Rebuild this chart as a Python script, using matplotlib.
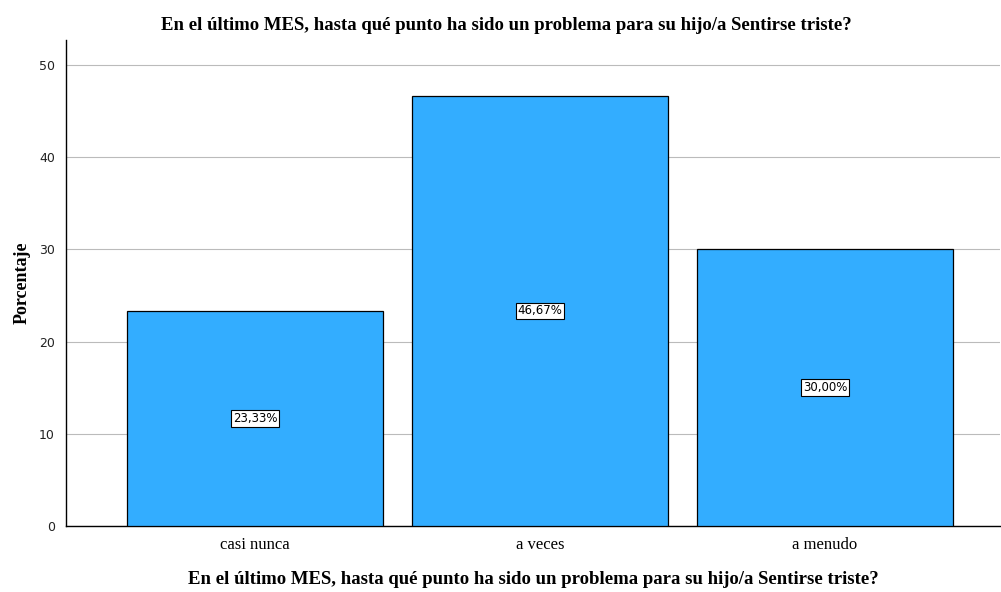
import matplotlib
matplotlib.use("Agg")
import matplotlib.pyplot as plt

categories = ["casi nunca", "a veces", "a menudo"]
values = [23.33, 46.67, 30.00]
labels = ["23,33%", "46,67%", "30,00%"]
yticks = [0, 10, 20, 30, 40, 50]
title = "En el último MES, hasta qué punto ha sido un problema para su hijo/a Sentirse triste?"

fig = plt.figure(figsize=(10.01, 5.92), dpi=100)
W, H = 1001, 592
ax = fig.add_axes([66 / W, (H - 526) / H, (1000 - 66) / W, (526 - 40) / H])

x = list(range(len(categories)))
ax.bar(x, values, width=0.898, color="#33adff", edgecolor="black", linewidth=0.9, zorder=3)
for xi, v, lab in zip(x, values, labels):
    ax.text(xi, v / 2, lab, ha="center", va="center", fontsize=8.5, family="DejaVu Sans",
            bbox=dict(boxstyle="square,pad=0.15", fc="white", ec="black", lw=0.8), zorder=4)

ax.set_xlim(-0.663, 2.614)
ax.set_ylim(0, 52.7)
ax.set_yticks(yticks)
ax.set_yticklabels([str(t) for t in yticks], fontsize=9, family="DejaVu Sans", color="#222222")
ax.set_xticks(x)
ax.set_xticklabels(categories, fontsize=12, family="Liberation Serif")
ax.tick_params(axis="x", length=0, pad=8)
ax.tick_params(axis="y", length=0, pad=8)
ax.yaxis.grid(True, color="#bbbbbb", linewidth=0.8, zorder=0)
ax.set_axisbelow(True)
for s in ["top", "right"]:
    ax.spines[s].set_visible(False)
ax.spines["left"].set_linewidth(1.0)
ax.spines["bottom"].set_linewidth(1.0)

ax.set_ylabel("Porcentaje", fontsize=13, family="Liberation Serif", fontweight="bold", labelpad=6)
fig.text(506 / W, 1 - 25 / H, title, ha="center", va="center", fontsize=13.5,
         family="Liberation Serif", fontweight="bold")
fig.text(533 / W, 1 - 580 / H, title, ha="center", va="center", fontsize=13.5,
         family="Liberation Serif", fontweight="bold")

fig.savefig("out.png", dpi=100)
